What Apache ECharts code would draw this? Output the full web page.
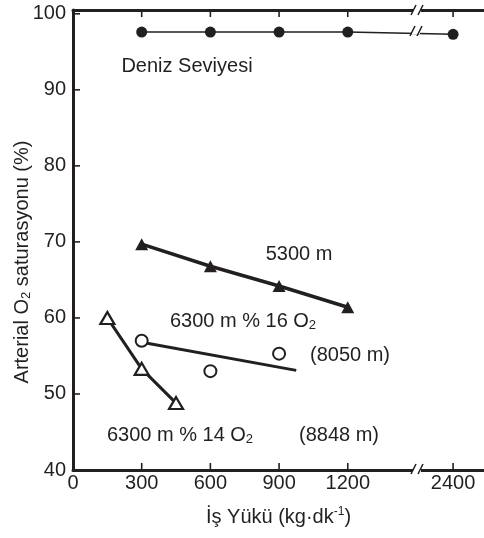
<!DOCTYPE html>
<html lang="tr">
<head>
  <meta charset="UTF-8">
  <script src="https://cdn.jsdelivr.net/npm/echarts@6/dist/echarts.min.js"></script>
  <title>Arterial O2 saturasyonu</title>
  <style>
    * { margin: 0; padding: 0; }
    html, body { width: 100%; height: 100%; background: #fff; }
    #chart { width: 484px; height: 538px; }
  </style>
</head>
<body>
<div id="chart"></div>
<script>
  // veriler
  var seaLoad = [300, 600, 900, 1200, 2400];
  var seaSat = [97.6, 97.6, 97.6, 97.6, 97.3];
  var load5300 = [300, 600, 900, 1200];
  var sat5300 = [69.7, 66.8, 64.2, 61.4];
  var load16 = [300, 600, 900];
  var sat16 = [57.0, 53.0, 55.3];
  var fit16Load = [300, 975];
  var fit16Sat = [56.8, 53.1];
  var load14 = [150, 300, 450];
  var sat14 = [60.0, 53.3, 48.8];
  var xTicks = [0, 300, 600, 900, 1200, 2400];
  var yTicks = [40, 50, 60, 70, 80, 90, 100];

  // kırık eksen: 2400 değeri 1660 konumuna çekilir
  var BREAK_FROM = 2400, BREAK_TO = 1660;
  function bx(v) { return v >= BREAK_FROM ? v - BREAK_FROM + BREAK_TO : v; }
  function pairs(xs, ys) {
    return xs.map(function (x, i) { return [bx(x), ys[i]]; });
  }

  var INK = '#231f20';
  var FONT = 'Liberation Sans';
  var Y_MIN = 40, Y_MAX = 100.5, X_MAX = 1795;
  var TICK = 7;

  var myChart = echarts.init(document.getElementById('chart'));

  function xAxisOf(pos, showLabel) {
    return {
      type: 'value',
      position: pos,
      min: 0,
      max: X_MAX,
      axisLine: { show: true, onZero: false, lineStyle: { color: INK, width: 3 } },
      axisTick: { show: false },
      axisLabel: {
        show: showLabel, margin: 3,
        customValues: xTicks.map(bx),
        fontFamily: FONT, fontSize: 20, color: INK,
        formatter: function (v) { return v === BREAK_TO ? String(BREAK_FROM) : String(v); }
      },
      splitLine: { show: false }
    };
  }

  // kırık işaretleri "//"
  function breakMark(cx, cy) {
    return [
      { type: 'rect', shape: { x: cx - 4, y: cy - 3, width: 8, height: 6 }, style: { fill: '#fff' }, z: 100 },
      { type: 'line', shape: { x1: cx - 6, y1: cy + 5, x2: cx - 1, y2: cy - 5 }, style: { stroke: INK, lineWidth: 1.5 }, z: 101 },
      { type: 'line', shape: { x1: cx + 1, y1: cy + 5, x2: cx + 6, y2: cy - 5 }, style: { stroke: INK, lineWidth: 1.5 }, z: 101 }
    ];
  }

  function label(text, x, y) {
    return {
      type: 'text', x: x, y: y, z: 50,
      style: {
        text: text, align: 'center', verticalAlign: 'middle',
        fontFamily: FONT, fontSize: 20, fill: INK,
        rich: {
          n: { fontFamily: FONT, fontSize: 20, fill: INK },
          s: { fontFamily: FONT, fontSize: 13, fill: INK, padding: [8, 0, 0, 0] }
        }
      }
    };
  }

  function tickLine(x1, y1, x2, y2) {
    return {
      type: 'line', z: 90,
      shape: { x1: x1, y1: y1, x2: x2, y2: y2 },
      style: { stroke: INK, lineWidth: 1.6 }
    };
  }

  var xBottom = xAxisOf('bottom', true);
  xBottom.name = '{n|İş Yükü (kg·dk}{p|-1}{n|)}';
  xBottom.nameLocation = 'middle';
  xBottom.nameGap = 36;
  xBottom.nameTextStyle = {
    rich: {
      n: { fontFamily: FONT, fontSize: 20, color: INK },
      p: { fontFamily: FONT, fontSize: 12, color: INK, padding: [0, 0, 10, 0] }
    }
  };

  var option = {
    animation: false,
    backgroundColor: '#fff',
    grid: { left: 73, right: 0, top: 10, bottom: 68 },
    xAxis: [xBottom, xAxisOf('top', false)],
    yAxis: {
      type: 'value',
      min: Y_MIN,
      max: Y_MAX,
      interval: 10,
      axisLine: { show: true, onZero: false, lineStyle: { color: INK, width: 3 } },
      axisTick: { show: false },
      axisLabel: {
        showMaxLabel: false,
        margin: 7,
        fontFamily: FONT, fontSize: 20, color: INK,
        formatter: function (v) { return v % 10 === 0 ? String(v) : ''; }
      },
      splitLine: { show: false }
    },
    series: [
      {
        name: 'Deniz Seviyesi',
        type: 'line',
        data: pairs(seaLoad, seaSat),
        symbol: 'circle',
        symbolSize: 11,
        itemStyle: { color: INK },
        lineStyle: { color: INK, width: 1.5 }
      },
      {
        name: '5300 m',
        type: 'line',
        data: pairs(load5300, sat5300),
        symbol: 'triangle',
        symbolSize: [13, 12],
        itemStyle: { color: INK },
        lineStyle: { color: INK, width: 3.5 }
      },
      {
        name: '6300 m % 16 O2 fit',
        type: 'line',
        data: pairs(fit16Load, fit16Sat),
        symbol: 'none',
        lineStyle: { color: INK, width: 3 }
      },
      {
        name: '6300 m % 16 O2',
        type: 'scatter',
        data: pairs(load16, sat16),
        symbol: 'circle',
        symbolSize: 12,
        itemStyle: { color: '#fff', borderColor: INK, borderWidth: 2, opacity: 1 },
        z: 5
      },
      {
        name: '6300 m % 14 O2',
        type: 'line',
        data: pairs(load14, sat14),
        symbol: 'triangle',
        symbolSize: [14, 12],
        itemStyle: { color: '#fff', borderColor: INK, borderWidth: 2.2 },
        lineStyle: { color: INK, width: 3 }
      }
    ]
  };

  myChart.setOption(option);

  // içe dönük tikler: konumlar eksen ölçeğinden alınır
  var graphics = [];
  var yBot = myChart.convertToPixel({ yAxisIndex: 0 }, Y_MIN);
  var yTop = myChart.convertToPixel({ yAxisIndex: 0 }, Y_MAX);
  var xLeft = myChart.convertToPixel({ xAxisIndex: 0 }, 0);
  xTicks.slice(1).forEach(function (v) {
    var px = myChart.convertToPixel({ xAxisIndex: 0 }, bx(v));
    graphics.push(tickLine(px, yBot, px, yBot - TICK));
    graphics.push(tickLine(px, yTop, px, yTop + TICK));
  });
  yTicks.slice(1).forEach(function (v) {
    var py = myChart.convertToPixel({ yAxisIndex: 0 }, v);
    graphics.push(tickLine(xLeft, py, xLeft + TICK, py));
  });

  graphics = graphics
    .concat(breakMark(417, 10))
    .concat(breakMark(416, 31))
    .concat(breakMark(417, 469))
    .concat([
      label('Deniz Seviyesi', 187, 66),
      label('5300 m', 299, 254),
      label('{n|6300 m % 16 O}{s|2}', 243, 321),
      label('(8050 m)', 350, 355),
      label('{n|6300 m % 14 O}{s|2}', 180, 435),
      label('(8848 m)', 339, 435),
      {
        type: 'text', x: 22, y: 262, rotation: Math.PI / 2,
        style: {
          text: '{n|Arterial O}{s|2}{n| saturasyonu (%)}',
          align: 'center', verticalAlign: 'middle',
          rich: {
            n: { fontFamily: FONT, fontSize: 20, fill: INK },
            s: { fontFamily: FONT, fontSize: 13, fill: INK, padding: [8, 0, 0, 0] }
          }
        }
      }
    ]);

  myChart.setOption({ graphic: graphics });
</script>
</body>
</html>
